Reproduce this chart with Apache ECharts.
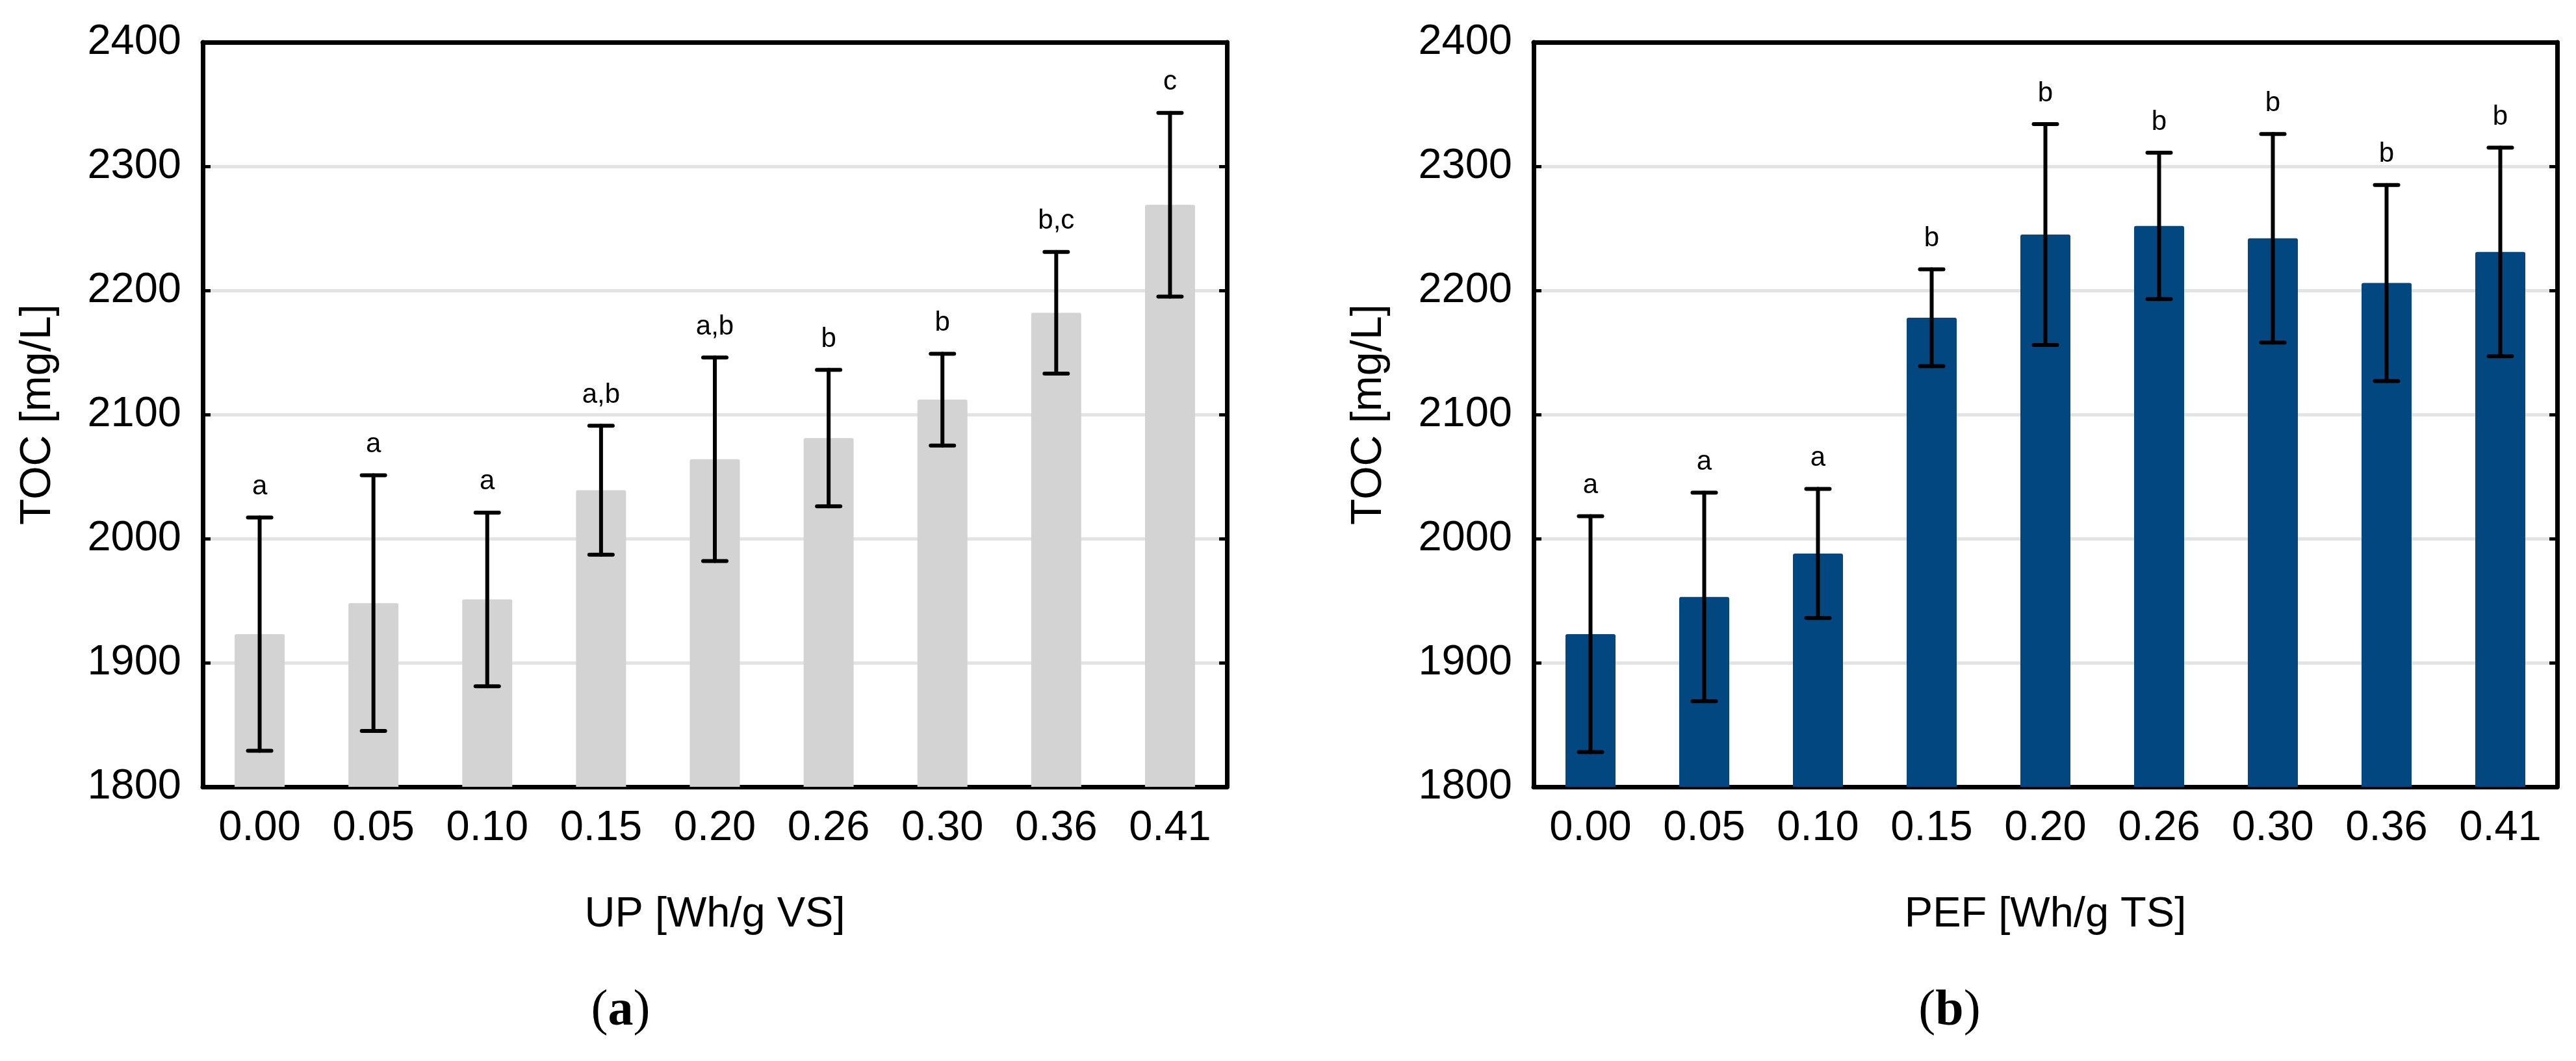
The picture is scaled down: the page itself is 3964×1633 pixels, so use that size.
<!DOCTYPE html>
<html>
    <head>
        <meta charset="UTF-8" />
        <script src="https://cdn.jsdelivr.net/npm/echarts/dist/echarts.min.js"></script>
        <style>
            html, body { margin: 0; padding: 0; background: #fff; }
        </style>
    </head>

    <body>
        <div id="main" style="width: 3964px; height: 1633px"></div>
        <script type="text/javascript">
            // energy input categories (same for both panels)
            var categories = ['0.00', '0.05', '0.10', '0.15', '0.20', '0.26', '0.30', '0.36', '0.41'];

            // (a) UP treatment, TOC mean and error
            var upMean = [1923, 1948, 1951, 2039, 2064, 2081, 2112, 2182, 2269];
            var upErr = [94, 103, 70, 52, 82, 55, 37, 49, 74];
            var upLetters = ['a', 'a', 'a', 'a,b', 'a,b', 'b', 'b', 'b,c', 'c'];

            // (b) PEF treatment
            var pefMean = [1923, 1953, 1988, 2178, 2245, 2252, 2242, 2206, 2231];
            var pefErr = [95, 84, 52, 39, 89, 59, 84, 79, 84];
            var pefLetters = ['a', 'a', 'a', 'b', 'b', 'b', 'b', 'b', 'b'];

            var yMin = 1800, yMax = 2400, yStep = 100;

            var font = '"Liberation Sans", Arial, sans-serif';

            var chartDom = document.getElementById("main");
            var myChart = echarts.init(chartDom);

            function errorData(mean, err) {
                var out = [];
                for (var i = 0; i < mean.length; i++) {
                    out.push([i, mean[i], err[i]]);
                }
                return out;
            }

            function makeRender(letters) {
                return function (params, api) {
                    var x = api.value(0);
                    var hi = api.coord([x, api.value(1) + api.value(2)]);
                    var lo = api.coord([x, api.value(1) - api.value(2)]);
                    var half = 18;
                    var st = { stroke: '#000', lineWidth: 6, lineCap: 'round' };
                    return {
                        type: 'group',
                        children: [
                            { type: 'line', shape: { x1: hi[0], y1: hi[1], x2: lo[0], y2: lo[1] }, style: st },
                            { type: 'line', shape: { x1: hi[0] - half, y1: hi[1], x2: hi[0] + half, y2: hi[1] }, style: st },
                            { type: 'line', shape: { x1: lo[0] - half, y1: lo[1], x2: lo[0] + half, y2: lo[1] }, style: st },
                            {
                                type: 'text',
                                x: hi[0],
                                y: hi[1] - 26,
                                style: {
                                    text: letters[params.dataIndex],
                                    fill: '#000',
                                    fontSize: 42,
                                    fontFamily: font,
                                    align: 'center',
                                    verticalAlign: 'bottom'
                                }
                            }
                        ]
                    };
                };
            }

            function xAxes(gridIndex, name) {
                return [
                    {
                        type: 'category',
                        gridIndex: gridIndex,
                        data: categories,
                        position: 'bottom',
                        name: name,
                        nameLocation: 'middle',
                        nameGap: 165,
                        nameTextStyle: { fontSize: 65, fontFamily: font, color: '#000' },
                        axisLine: { lineStyle: { color: '#000', width: 7 } },
                        axisTick: { inside: true, alignWithLabel: true, length: 13, lineStyle: { width: 5, color: '#000' } },
                        axisLabel: { margin: 32, fontSize: 65, fontFamily: font, color: '#000' }
                    },
                    {
                        type: 'category',
                        gridIndex: gridIndex,
                        data: categories,
                        position: 'top',
                        axisLine: { lineStyle: { color: '#000', width: 7 } },
                        axisTick: { inside: true, alignWithLabel: true, length: 13, lineStyle: { width: 5, color: '#000' } },
                        axisLabel: { show: false }
                    }
                ];
            }

            function yAxes(gridIndex) {
                return [
                    {
                        type: 'value',
                        gridIndex: gridIndex,
                        min: yMin,
                        max: yMax,
                        interval: yStep,
                        position: 'left',
                        name: 'TOC [mg/L]',
                        nameLocation: 'middle',
                        nameGap: 220,
                        nameTextStyle: { fontSize: 66, fontFamily: font, color: '#000' },
                        axisLine: { show: true, lineStyle: { color: '#000', width: 7 } },
                        axisTick: { show: true, inside: true, length: 12, lineStyle: { width: 5, color: '#000' } },
                        axisLabel: {
                            margin: 33,
                            fontSize: 65,
                            fontFamily: font,
                            color: '#000',
                            formatter: function (v) { return String(v); }
                        },
                        splitLine: { show: true, lineStyle: { color: '#e3e3e3', width: 5 } }
                    },
                    {
                        type: 'value',
                        gridIndex: gridIndex,
                        min: yMin,
                        max: yMax,
                        interval: yStep,
                        position: 'right',
                        axisLine: { show: true, lineStyle: { color: '#000', width: 7 } },
                        axisTick: { show: true, inside: true, length: 12, lineStyle: { width: 5, color: '#000' } },
                        axisLabel: { show: false },
                        splitLine: { show: false }
                    }
                ];
            }

            var option = {
                animation: false,
                backgroundColor: '#fff',
                grid: [
                    { left: 312, top: 65, width: 1576, height: 1146 },
                    { left: 2360, top: 65, width: 1575, height: 1146 }
                ],
                xAxis: xAxes(0, 'UP [Wh/g VS]').concat(xAxes(1, 'PEF [Wh/g TS]')),
                yAxis: yAxes(0).concat(yAxes(1)),
                graphic: [
                    {
                        type: 'text',
                        x: 955,
                        y: 1557,
                        style: {
                            text: '{p|(}{b|a}{p|)}',
                            align: 'center',
                            verticalAlign: 'middle',
                            rich: {
                                p: { fontSize: 78, fontFamily: '"Liberation Serif", serif', fill: '#000' },
                                b: { fontSize: 78, fontFamily: '"Liberation Serif", serif', fontWeight: 'bold', fill: '#000' }
                            }
                        }
                    },
                    {
                        type: 'text',
                        x: 3000,
                        y: 1557,
                        style: {
                            text: '{p|(}{b|b}{p|)}',
                            align: 'center',
                            verticalAlign: 'middle',
                            rich: {
                                p: { fontSize: 78, fontFamily: '"Liberation Serif", serif', fill: '#000' },
                                b: { fontSize: 78, fontFamily: '"Liberation Serif", serif', fontWeight: 'bold', fill: '#000' }
                            }
                        }
                    }
                ],
                series: [
                    {
                        type: 'bar',
                        xAxisIndex: 0,
                        yAxisIndex: 0,
                        barWidth: 77,
                        itemStyle: { color: '#d3d3d3', borderRadius: [3, 3, 0, 0] },
                        data: upMean
                    },
                    {
                        type: 'custom',
                        xAxisIndex: 0,
                        yAxisIndex: 0,
                        z: 5,
                        renderItem: makeRender(upLetters),
                        data: errorData(upMean, upErr)
                    },
                    {
                        type: 'bar',
                        xAxisIndex: 2,
                        yAxisIndex: 2,
                        barWidth: 77,
                        itemStyle: { color: '#02477f', borderRadius: [3, 3, 0, 0] },
                        data: pefMean
                    },
                    {
                        type: 'custom',
                        xAxisIndex: 2,
                        yAxisIndex: 2,
                        z: 5,
                        renderItem: makeRender(pefLetters),
                        data: errorData(pefMean, pefErr)
                    }
                ]
            };

            option && myChart.setOption(option);
        </script>
    </body>
</html>
